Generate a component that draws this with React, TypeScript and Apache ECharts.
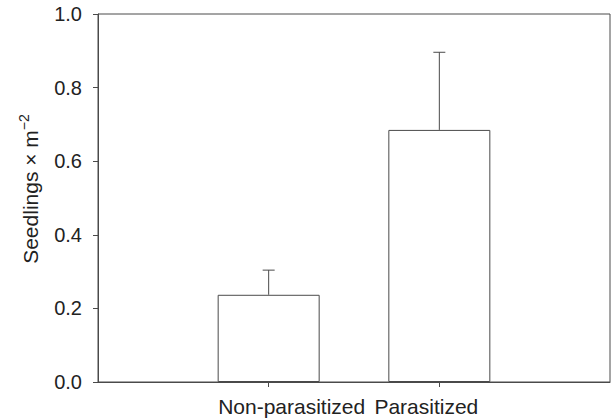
import React, { useEffect, useRef } from "react";
import * as echarts from "echarts";

const categories = ["", "Non-parasitized", "Parasitized", ""];
const means = [null, 0.237, 0.685, null];
const upperErrors = [null, 0.304, 0.896, null];
const yTicks = { min: 0, max: 1, interval: 0.2 };
const yTitleMain = "Seedlings × m";
const yTitleSup = "−2";

const FONT = "'Liberation Sans', Arial, sans-serif";
const LINE = "#4a4a4a";
const TEXT = "#222";

export default function App() {
  const ref = useRef<HTMLDivElement>(null);
  useEffect(() => {
    if (!ref.current) return;
    const chart = echarts.init(ref.current, undefined, { renderer: "svg" });
    const errData = means
      .map((m, i) => (m == null ? null : [i, m, upperErrors[i]]))
      .filter((d) => d != null);
    chart.setOption({
      animation: false,
      backgroundColor: "#fff",
      textStyle: { fontFamily: FONT },
      grid: {
        left: 98,
        right: 1,
        top: 14,
        bottom: 38,
        show: true,
        borderColor: LINE,
        borderWidth: 1,
        backgroundColor: "transparent",
      },
      xAxis: {
        type: "category",
        data: categories,
        boundaryGap: false,
        axisLine: { lineStyle: { color: LINE, width: 1 } },
        axisTick: {
          show: true,
          length: 5,
          inside: false,
          interval: (idx: number) => idx === 1 || idx === 2,
          lineStyle: { color: LINE },
        },
        axisLabel: {
          interval: 0,
          margin: 14,
          color: TEXT,
          fontSize: 21,
          fontFamily: FONT,
          formatter: (v: string) => {
            if (v === "Non-parasitized") return "{a|" + v + "}";
            if (v === "Parasitized") return "{b|" + v + "}";
            return "";
          },
          rich: {
            a: { fontSize: 21, fontFamily: FONT, color: TEXT, padding: [0, 0, 0, 46] },
            b: { fontSize: 21, fontFamily: FONT, color: TEXT, padding: [0, 26, 0, 0] },
          },
        },
        splitLine: { show: false },
      },
      yAxis: {
        type: "value",
        min: yTicks.min,
        max: yTicks.max,
        interval: yTicks.interval,
        axisLine: { show: true, lineStyle: { color: LINE, width: 1 } },
        axisTick: { show: true, length: 5, inside: false, lineStyle: { color: LINE } },
        axisLabel: {
          margin: 16,
          color: TEXT,
          fontSize: 20,
          fontFamily: FONT,
          formatter: (v: number) => v.toFixed(1),
        },
        splitLine: { show: false },
      },
      graphic: [
        {
          type: "text",
          x: 30,
          y: 189,
          rotation: Math.PI / 2,
          style: {
            text: "{a|" + yTitleMain + "}{b|" + yTitleSup + "}",
            align: "center",
            verticalAlign: "middle",
            rich: {
              a: { fontSize: 21, fontFamily: FONT, fill: TEXT, lineHeight: 24 },
              b: { fontSize: 14, fontFamily: FONT, fill: TEXT, verticalAlign: "top", padding: [0, 0, 12, 0] },
            },
          },
        },
      ],
      series: [
        {
          type: "bar",
          data: means,
          barWidth: 102,
          itemStyle: { color: "#fff", borderColor: LINE, borderWidth: 1 },
          silent: true,
          z: 2,
        },
        {
          type: "custom",
          data: errData,
          z: 3,
          silent: true,
          renderItem: (params: any, api: any) => {
            const x = api.value(0);
            const base = api.coord([x, api.value(1)]);
            const top = api.coord([x, api.value(2)]);
            const half = 6;
            return {
              type: "group",
              children: [
                {
                  type: "line",
                  shape: { x1: base[0], y1: base[1], x2: top[0], y2: top[1] },
                  style: { stroke: LINE, lineWidth: 1 },
                },
                {
                  type: "line",
                  shape: { x1: top[0] - half, y1: top[1], x2: top[0] + half, y2: top[1] },
                  style: { stroke: LINE, lineWidth: 1 },
                },
              ],
            };
          },
        },
      ],
    });
    return () => chart.dispose();
  }, []);
  return (
    <div
      ref={ref}
      style={{ position: "fixed", left: 0, top: 0, width: 613, height: 420 }}
    />
  );
}
